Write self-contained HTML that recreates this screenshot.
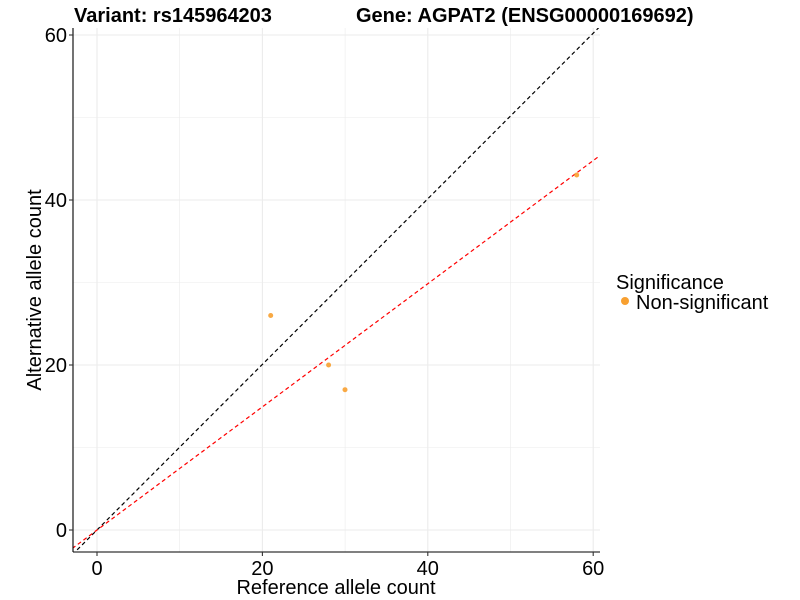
<!DOCTYPE html>
<html><head><meta charset="utf-8"><style>body{margin:0;background:#fff}svg{display:block}</style></head><body>
<svg width="800" height="600" xmlns="http://www.w3.org/2000/svg" font-family="Liberation Sans, sans-serif">
<rect width="800" height="600" fill="#fff"/>
<g stroke="#ebebeb" stroke-width="0.6">
<line x1="179.7" y1="28" x2="179.7" y2="552"/><line x1="345.1" y1="28" x2="345.1" y2="552"/><line x1="510.5" y1="28" x2="510.5" y2="552"/>
<line x1="73" y1="447.5" x2="600" y2="447.5"/><line x1="73" y1="282.5" x2="600" y2="282.5"/><line x1="73" y1="117.5" x2="600" y2="117.5"/>
</g>
<g stroke="#ebebeb" stroke-width="1.1">
<line x1="97" y1="28" x2="97" y2="552"/><line x1="262.4" y1="28" x2="262.4" y2="552"/><line x1="427.8" y1="28" x2="427.8" y2="552"/><line x1="593.2" y1="28" x2="593.2" y2="552"/>
<line x1="73" y1="530" x2="600" y2="530"/><line x1="73" y1="365" x2="600" y2="365"/><line x1="73" y1="200" x2="600" y2="200"/><line x1="73" y1="35" x2="600" y2="35"/>
</g>
<clipPath id="c"><rect x="73" y="28" width="527" height="524"/></clipPath>
<g clip-path="url(#c)">
<line x1="72.2" y1="554.8" x2="600" y2="26.4" stroke="#000" stroke-width="1.2" stroke-dasharray="4,3"/>
<line x1="72.2" y1="548.5" x2="600" y2="155.5" stroke="#ff0000" stroke-width="1.2" stroke-dasharray="4,3"/>
</g>
<g fill="#f8a030" opacity="0.9">
<circle cx="270.7" cy="315.5" r="2.5"/><circle cx="328.6" cy="365" r="2.5"/><circle cx="345" cy="389.7" r="2.5"/><circle cx="576.7" cy="175" r="2.5"/>
</g>
<line x1="73" y1="28" x2="73" y2="552" stroke="#000" stroke-width="1.1"/>
<line x1="73" y1="552" x2="600" y2="552" stroke="#000" stroke-width="1.1"/>
<g stroke="#333" stroke-width="1.1">
<line x1="97" y1="552" x2="97" y2="556"/><line x1="262.4" y1="552" x2="262.4" y2="556"/><line x1="427.8" y1="552" x2="427.8" y2="556"/><line x1="593.2" y1="552" x2="593.2" y2="556"/>
<line x1="69" y1="530" x2="73" y2="530"/><line x1="69" y1="365" x2="73" y2="365"/><line x1="69" y1="200" x2="73" y2="200"/><line x1="69" y1="35" x2="73" y2="35"/>
</g>
<g font-size="20" fill="#000">
<text x="97" y="575" text-anchor="middle">0</text><text x="262.4" y="575" text-anchor="middle">20</text><text x="427.8" y="575" text-anchor="middle">40</text><text x="593.2" y="575" text-anchor="middle">60</text>
<text x="67" y="537" text-anchor="end">0</text><text x="67" y="372" text-anchor="end">20</text><text x="67" y="207" text-anchor="end">40</text><text x="67" y="42" text-anchor="end">60</text>
<text x="336" y="594" text-anchor="middle">Reference allele count</text>
<text transform="translate(41,290) rotate(-90)" text-anchor="middle">Alternative allele count</text>
<text x="616" y="289">Significance</text>
<text x="636" y="309">Non-significant</text>
</g>
<circle cx="625" cy="301" r="4" fill="#f8a030"/>
<text x="74" y="22" font-size="20" font-weight="bold">Variant: rs145964203</text>
<text x="356" y="22" font-size="20" font-weight="bold">Gene: AGPAT2 (ENSG00000169692)</text>
</svg>
</body></html>
